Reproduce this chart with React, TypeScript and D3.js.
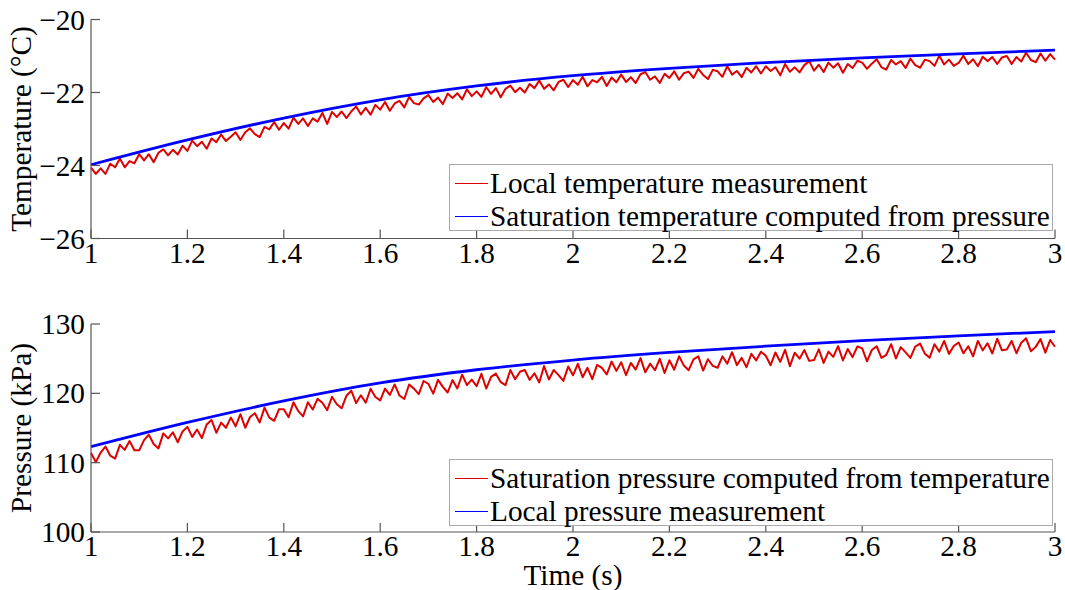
import React from "react";
import * as d3 from "d3";

// Smooth series sampled every 0.2 s
const smoothTimes = [1.0, 1.2, 1.4, 1.6, 1.8, 2.0, 2.2, 2.4, 2.6, 2.8, 3.0];
const satTemperature = [-23.98, -23.3, -22.7, -22.2, -21.82, -21.54, -21.34, -21.18, -21.05, -20.94, -20.84];
const localPressure = [112.3, 115.8, 118.9, 121.5, 123.4, 124.8, 125.9, 126.8, 127.6, 128.3, 128.9];

// Noisy series sampled every 0.01 s starting at 1 s
const noisyStart = 1.0;
const noisyStep = 0.01;
const localTemperature = [
  -24.06, -24.23, -24.08, -24.23, -23.95, -24.05, -23.81, -24.05, -23.88, -23.94,
  -23.69, -23.86, -23.69, -23.91, -23.65, -23.56, -23.72, -23.57, -23.70, -23.46,
  -23.60, -23.32, -23.47, -23.35, -23.54, -23.26, -23.36, -23.15, -23.33, -23.21,
  -23.09, -23.30, -23.09, -22.98, -23.14, -23.22, -22.94, -23.01, -22.81, -23.02,
  -22.84, -22.99, -22.69, -22.86, -22.71, -22.92, -22.71, -22.80, -22.56, -22.86,
  -22.53, -22.67, -22.52, -22.70, -22.52, -22.38, -22.60, -22.42, -22.61, -22.34,
  -22.47, -22.26, -22.50, -22.30, -22.23, -22.41, -22.12, -22.29, -22.33, -22.16,
  -22.07, -22.26, -22.14, -22.32, -22.03, -22.15, -22.02, -22.19, -21.91, -22.10,
  -21.97, -22.12, -21.85, -22.04, -21.88, -22.13, -21.90, -21.81, -21.99, -21.87,
  -22.00, -21.77, -21.88, -21.67, -21.90, -21.78, -21.94, -21.71, -21.65, -21.85,
  -21.66, -21.79, -21.57, -21.83, -21.66, -21.72, -21.57, -21.82, -21.59, -21.72,
  -21.51, -21.71, -21.58, -21.74, -21.50, -21.44, -21.65, -21.56, -21.74, -21.49,
  -21.60, -21.42, -21.65, -21.47, -21.43, -21.60, -21.35, -21.52, -21.63, -21.38,
  -21.42, -21.57, -21.28, -21.51, -21.41, -21.58, -21.32, -21.45, -21.28, -21.48,
  -21.28, -21.41, -21.31, -21.53, -21.22, -21.43, -21.31, -21.45, -21.25, -21.14,
  -21.40, -21.24, -21.44, -21.18, -21.32, -21.20, -21.46, -21.22, -21.33, -21.13,
  -21.18, -21.35, -21.21, -21.09, -21.31, -21.37, -21.11, -21.23, -21.14, -21.33,
  -21.07, -21.25, -21.32, -21.10, -21.14, -21.27, -20.99, -21.23, -21.10, -21.27,
  -21.19, -20.99, -21.22, -21.09, -21.28, -21.02, -21.14, -21.03, -21.22, -21.04,
  -21.00, -21.22, -21.03, -21.15, -20.91, -21.11, -21.17, -20.93, -21.13, -20.95, -21.10,
];
const satPressure = [
  111.40, 110.08, 111.46, 112.33, 111.01, 110.59, 112.57, 111.85, 113.12, 111.80,
  111.78, 113.25, 114.02, 112.69, 112.06, 114.23, 113.50, 114.37, 112.94, 114.51,
  115.16, 113.72, 114.78, 113.54, 115.50, 116.16, 114.32, 115.78, 115.04, 116.50,
  115.24, 116.99, 115.04, 116.59, 117.14, 115.79, 117.94, 116.49, 116.04, 117.69,
  117.72, 116.56, 118.70, 117.44, 116.68, 118.72, 117.66, 119.20, 118.64, 117.58,
  119.50, 118.42, 117.84, 119.66, 120.38, 118.60, 119.72, 118.64, 120.66, 119.48,
  118.98, 120.68, 119.78, 121.28, 119.68, 119.18, 121.28, 120.68, 119.88, 121.78,
  121.36, 119.95, 121.94, 120.93, 120.12, 121.91, 120.70, 122.69, 121.18, 121.97,
  121.04, 122.82, 120.69, 122.37, 122.84, 121.62, 121.19, 123.37, 122.04, 123.12,
  123.37, 121.94, 122.90, 121.57, 123.93, 122.00, 123.36, 122.63, 121.79, 123.86,
  122.60, 124.26, 122.32, 123.68, 122.04, 124.10, 123.66, 122.72, 124.58, 123.24,
  124.48, 122.63, 124.38, 123.43, 125.08, 123.03, 124.28, 123.33, 124.98, 122.93,
  124.76, 123.41, 125.35, 124.00, 123.34, 124.89, 125.33, 123.28, 124.92, 123.97,
  123.69, 125.34, 124.28, 125.93, 124.07, 125.12, 123.76, 125.71, 124.75, 126.00,
  125.42, 124.06, 125.90, 124.54, 126.28, 123.92, 125.86, 125.00, 126.24, 124.68,
  124.80, 126.34, 124.38, 126.02, 125.26, 126.80, 124.74, 126.38, 125.22, 126.76,
  126.48, 124.62, 126.25, 126.79, 125.12, 125.56, 127.09, 125.03, 126.66, 125.90,
  125.11, 126.75, 127.18, 125.72, 125.15, 127.09, 126.02, 127.56, 125.69, 126.83,
  127.34, 125.77, 126.80, 125.33, 127.56, 126.19, 127.22, 125.75, 127.88, 126.21,
  126.32, 127.55, 125.78, 127.31, 127.94, 126.07, 126.70, 127.83, 125.86, 127.69, 126.72,
];

const timeTicks = [1, 1.2, 1.4, 1.6, 1.8, 2, 2.2, 2.4, 2.6, 2.8, 3];
const tempTicks = [-26, -24, -22, -20];
const pressureTicks = [100, 110, 120, 130];

const topLegend = ["Local temperature measurement", "Saturation temperature computed from pressure"];
const bottomLegend = ["Saturation pressure computed from temperature", "Local pressure measurement"];

const RED = "#dd0000";
const BLUE = "#0000ff";
const AXIS = "#555";
const FONT = "'Liberation Serif', 'Times New Roman', serif";
const FS = 29.3;

const fmt = (v: number) => String(v).replace("-", "\u2212");

const x = d3.scaleLinear().domain([1, 3]).range([91, 1055]);

function Panel({
  y, ticks, noisy, smooth, title, legend, legendTop, showXTitle,
}: {
  y: d3.ScaleLinear<number, number>;
  ticks: number[];
  noisy: number[];
  smooth: number[];
  title: string;
  legend: string[];
  legendTop: number;
  showXTitle: boolean;
}) {
  const [y0, y1] = y.range();
  const noisyLine = d3
    .line<number>()
    .x((_, i) => x(noisyStart + i * noisyStep))
    .y((d) => y(d));
  const smoothLine = d3
    .line<number>()
    .x((_, i) => x(smoothTimes[i]))
    .y((d) => y(d))
    .curve(d3.curveMonotoneX);
  const x0 = x.range()[0];
  const xEnd = x.range()[1];
  const tickLen = 9;
  const legendX = 449.5;
  const legendW = 603;
  const legendH = 66;
  const colors = [RED, BLUE];
  return (
    <g>
      <path d={noisyLine(noisy) ?? ""} fill="none" stroke={RED} strokeWidth={2} strokeLinejoin="round" />
      <path d={smoothLine(smooth) ?? ""} fill="none" stroke={BLUE} strokeWidth={2.8} />
      <line x1={x0} x2={x0} y1={y1} y2={y0} stroke={AXIS} strokeWidth={1.2} />
      <line x1={x0} x2={xEnd} y1={y0} y2={y0} stroke={AXIS} strokeWidth={1.2} />
      {timeTicks.map((t) => (
        <g key={"xt" + t}>
          <line x1={x(t)} x2={x(t)} y1={y0} y2={y0 - tickLen} stroke={AXIS} strokeWidth={1.2} />
          <text x={x(t)} y={y0 + 24} textAnchor="middle" fontFamily={FONT} fontSize={FS} fill="#000">
            {fmt(t)}
          </text>
        </g>
      ))}
      {ticks.map((v) => (
        <g key={"yt" + v}>
          <line x1={x0} x2={x0 + tickLen} y1={y(v)} y2={y(v)} stroke={AXIS} strokeWidth={1.2} />
          <text x={85} y={y(v) + 10} textAnchor="end" fontFamily={FONT} fontSize={FS} fill="#000">
            {fmt(v)}
          </text>
        </g>
      ))}
      <text
        transform={`translate(31, ${(y0 + y1) / 2}) rotate(-90)`}
        textAnchor="middle"
        fontFamily={FONT}
        fontSize={FS}
        fill="#000"
      >
        {title}
      </text>
      {showXTitle && (
        <text x={573} y={585} textAnchor="middle" fontFamily={FONT} fontSize={FS} fill="#000">
          Time (s)
        </text>
      )}
      <rect x={legendX} y={legendTop} width={legendW} height={legendH} fill="#fff" stroke="#aaa" strokeWidth={1} />
      {legend.map((label, i) => {
        const base = legendTop + 28 + i * 33;
        return (
          <g key={label}>
            <line x1={455} x2={488} y1={base - 9} y2={base - 9} stroke={colors[i]} strokeWidth={1} />
            <text x={490} y={base} fontFamily={FONT} fontSize={FS} fill="#000">
              {label}
            </text>
          </g>
        );
      })}
    </g>
  );
}

export default function App() {
  const yT = d3.scaleLinear().domain([-26, -20]).range([238.5, 19.5]);
  const yP = d3.scaleLinear().domain([100, 130]).range([532, 324]);
  return (
    <svg width={1065} height={590} style={{ position: "absolute", left: 0, top: 0, background: "#fff" }}>
      <rect width={1065} height={590} fill="#fff" />
      <Panel
        y={yT}
        ticks={tempTicks}
        noisy={localTemperature}
        smooth={satTemperature}
        title="Temperature (°C)"
        legend={topLegend}
        legendTop={164.5}
        showXTitle={false}
      />
      <Panel
        y={yP}
        ticks={pressureTicks}
        noisy={satPressure}
        smooth={localPressure}
        title="Pressure (kPa)"
        legend={bottomLegend}
        legendTop={459.5}
        showXTitle={true}
      />
    </svg>
  );
}
